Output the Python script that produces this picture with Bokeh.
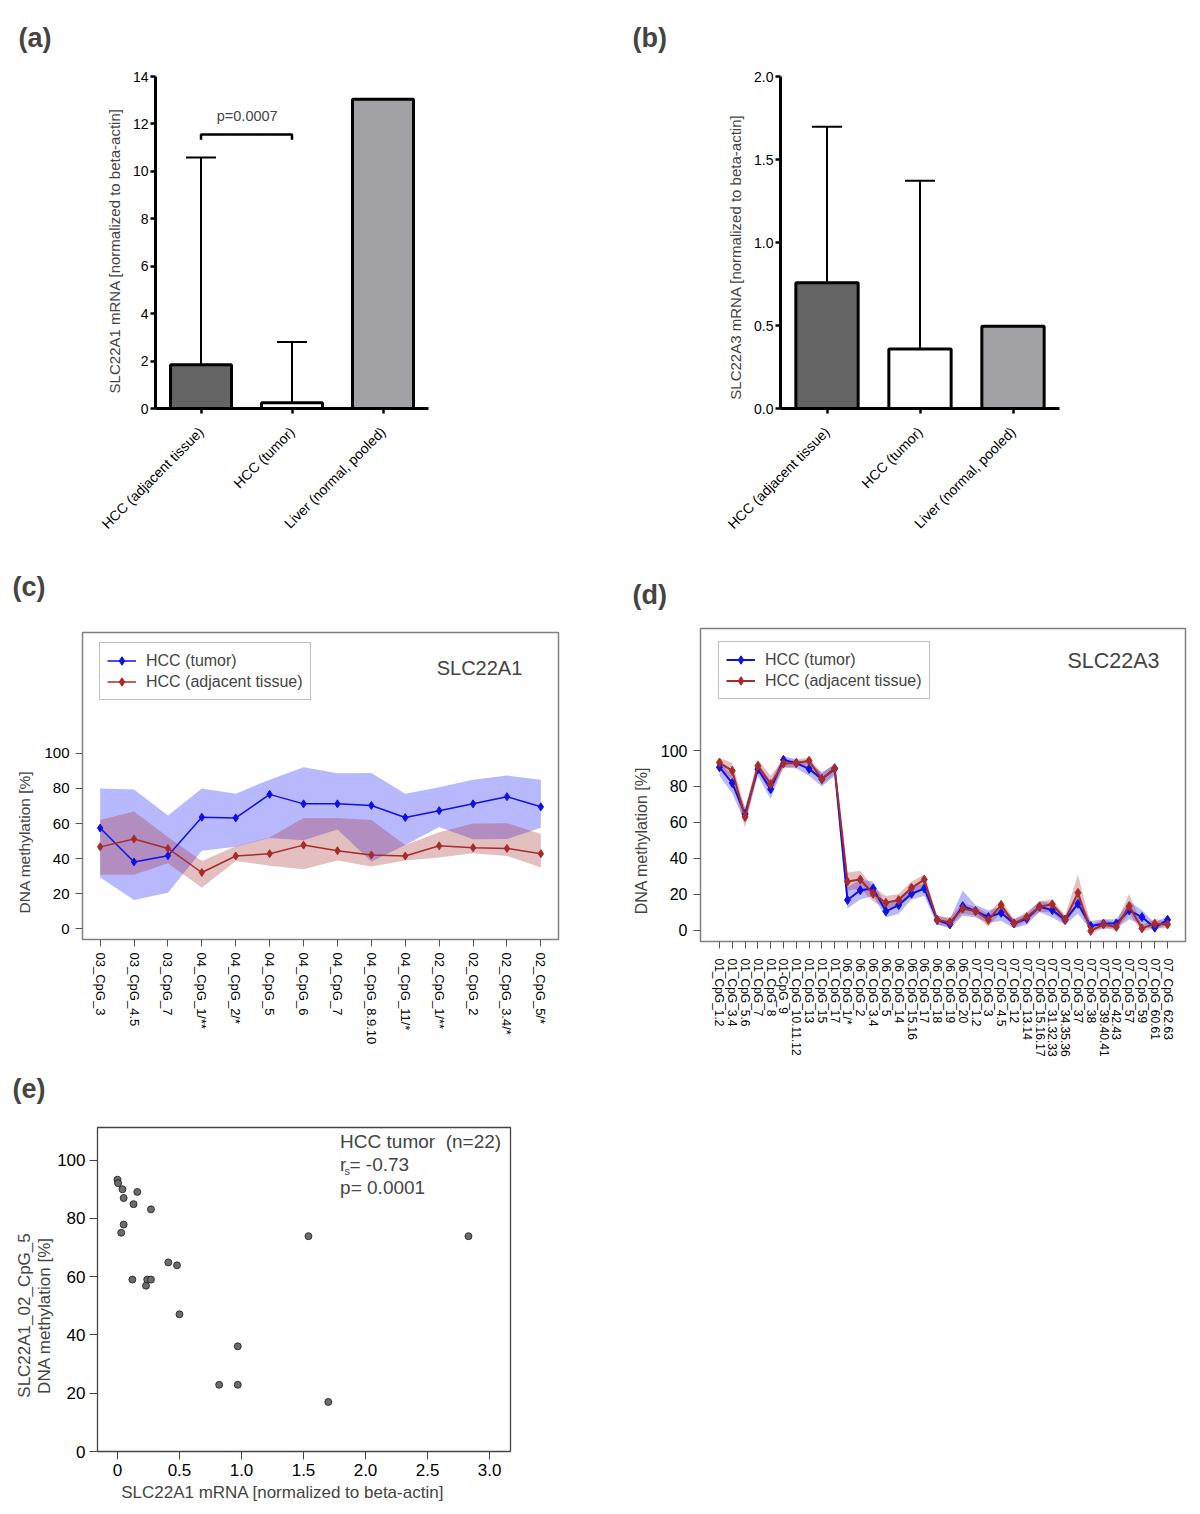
import math
from bokeh.plotting import figure
from bokeh.models import (ColumnDataSource, Range1d, FactorRange, FixedTicker, Whisker,
                          TeeHead, Label, Legend, LegendItem, PrintfTickFormatter)
from bokeh.layouts import column, row
from bokeh.embed import file_html
from bokeh.resources import INLINE

FONT = "Liberation Sans"
NB = "\u00a0"

# ---------------- data: panels (a) and (b) ----------------
bar_cats = ["HCC (adjacent tissue)", "HCC (tumor)", "Liver (normal, pooled)"]
bar_colors = ["#646464", "#ffffff", "#a2a2a6"]
a_means = [1.84, 0.24, 13.04]
a_err_lo = [0.31, 0.02]
a_err_hi = [10.58, 2.80]
a_pvalue = "p=0.0007"
a_bracket_y = 11.55
a_bracket_drop = 0.22
b_means = [0.757, 0.359, 0.496]
b_err_lo = [0.072, 0.006]
b_err_hi = [1.697, 1.372]

# ---------------- data: panel (c) SLC22A1 ----------------
cats_c = ["03_CpG_3", "03_CpG_4.5", "03_CpG_7", "04_CpG_1/**", "04_CpG_2/*", "04_CpG_5",
          "04_CpG_6", "04_CpG_7", "04_CpG_8.9.10", "04_CpG_11/*", "02_CpG_1/**", "02_CpG_2",
          "02_CpG_3.4/*", "02_CpG_5/*"]
tum_c = [57.4, 38.1, 41.7, 63.6, 63.2, 76.6, 71.2, 71.2, 70.3, 63.4, 67.3, 71.2, 75.3, 69.5]
tum_c_hi = [80.0, 79.4, 64.5, 80.0, 77.0, 85.0, 92.0, 88.6, 88.8, 77.0, 80.7, 85.0, 87.3, 85.0]
tum_c_lo = [29.3, 16.4, 20.6, 44.5, 46.7, 51.8, 50.5, 56.6, 38.3, 47.7, 58.0, 51.0, 51.2, 57.6]
adj_c = [46.7, 51.2, 45.8, 32.1, 41.5, 42.8, 47.7, 44.5, 42.1, 41.5, 47.3, 46.2, 45.8, 42.8]
adj_c_hi = [62.0, 66.9, 52.3, 38.7, 47.1, 52.0, 63.2, 63.2, 62.0, 47.7, 55.0, 60.0, 60.2, 54.0]
adj_c_lo = [30.8, 30.8, 37.4, 23.4, 38.7, 35.9, 34.0, 39.0, 35.5, 38.9, 40.6, 43.0, 41.5, 35.0]

# ---------------- data: panel (d) SLC22A3 ----------------
cats_d = ["01_CpG_1.2", "01_CpG_3.4", "01_CpG_5.6", "01_CpG_7", "01_CpG_8", "01-CpG_9",
          "01_CpG_10.11.12", "01_CpG_13", "01_CpG_15", "01_CpG_17", "06_CpG_1/*", "06_CpG_2",
          "06_CpG_3.4", "06_CpG_5", "06_CpG_14", "06_CpG_15.16", "06_CpG_17", "06_CpG_18",
          "06_CpG_19", "06_CpG_20", "07_CpG_1.2", "07_CpG_3", "07_CpG_4.5", "07_CpG_12",
          "07_CpG_13.14", "07_CpG_15.16.17", "07_CpG_31.32.33", "07_CpG_34.35.36", "07_CpG_37",
          "07_CpG_38", "07_CpG_39.40.41", "07_CpG_42.43", "07_CpG_57", "07_CpG_59",
          "07_CpG_60.61", "07_CpG_62.63"]
tum_d = [90.7, 81.9, 64.6, 89.6, 78.5, 94.8, 93.0, 89.8, 84.1, 89.8, 16.7, 22.2, 23.1, 10.4,
         13.9, 20.2, 23.1, 5.6, 3.1, 13.3, 10.6, 7.2, 9.6, 3.7, 6.3, 13.0, 11.1, 5.6, 14.6,
         2.2, 3.5, 3.7, 10.9, 7.2, 1.3, 5.7]
tum_d_lo = [86, 76, 60, 86, 73, 91, 90, 86, 80, 86, 12, 17, 19, 7, 9, 17, 19, 3, 1, 8, 7, 4,
            5, 1, 3, 10, 7, 3, 9, 0, 1, 1, 6, 3, 0, 3]
tum_d_hi = [94, 86, 68, 93, 83, 97, 95, 93, 88, 92, 24, 28, 27, 14, 18, 24, 26, 8, 6, 22, 14,
            11, 13, 6, 9, 16, 15, 8, 19, 5, 6, 6, 16, 11, 4, 8]
adj_d = [93.3, 88.7, 63.0, 91.5, 81.3, 92.8, 93.0, 94.3, 84.1, 90.2, 27.0, 28.1, 20.2, 15.2,
         16.7, 23.5, 28.1, 5.6, 4.4, 11.9, 10.6, 5.6, 13.9, 3.7, 7.2, 13.0, 14.3, 5.9, 20.7,
         -0.5, 3.1, 1.7, 13.3, 0.9, 3.5, 3.1]
adj_d_lo = [90, 84, 57, 88, 77, 90, 91, 92, 81, 87, 22, 23, 16, 12, 13, 19, 24, 3, 2, 9, 8, 2,
            10, 1, 5, 10, 10, 3, 14, -2, 1, 0, 9, -1, 1, 1]
adj_d_hi = [96, 93, 68, 95, 86, 95, 95, 96, 87, 93, 32, 33, 24, 19, 20, 27, 31, 8, 7, 15, 13,
            9, 17, 6, 10, 16, 17, 8, 31, 3, 6, 4, 20, 3, 6, 5]

# ---------------- data: panel (e) scatter ----------------
e_mrna = [0.00, 0.005, 0.04, 0.16, 0.05, 0.13, 0.27, 0.05, 0.03, 1.54, 2.83, 0.41, 0.48,
          0.12, 0.24, 0.27, 0.23, 0.50, 0.97, 0.82, 0.97, 1.70]
e_meth = [93.3, 92.1, 90.0, 89.1, 87.0, 84.9, 83.1, 77.9, 75.1, 73.9, 73.9, 64.9, 63.9,
          59.0, 59.0, 59.0, 56.9, 47.1, 36.1, 22.9, 22.9, 17.0]

BLUE = "#1010e6"
RED = "#a82b2b"


def new_fig(width, height, borders, letter, letter_off, letter_standoff, **kw):
    bl, br, bt, bb = borders
    p = figure(width=width, height=height, output_backend="svg", toolbar_location=None,
               min_border_left=bl, min_border_right=br, min_border_top=bt,
               min_border_bottom=bb, title=letter, **kw)
    p.title.text_font = FONT
    p.title.text_font_size = "27px"
    p.title.text_font_style = "bold"
    p.title.align = "left"
    p.title.vertical_align = "top"
    p.title.offset = letter_off
    p.title.standoff = letter_standoff
    p.xgrid.grid_line_color = None
    p.ygrid.grid_line_color = None
    return p


def bar_panel(means, lo, hi, ytop, yticks, fmt, ylabel, width, borders, letter, loff):
    p = new_fig(width, 540, borders, letter, loff, 43,
                x_range=FactorRange(*bar_cats), y_range=Range1d(0, ytop))
    p.outline_line_color = None
    src = ColumnDataSource(dict(cat=bar_cats, top=means, color=bar_colors))
    p.vbar(x="cat", top="top", width=0.67, source=src, fill_color="color",
           line_color="black", line_width=3)
    wsrc = ColumnDataSource(dict(base=bar_cats[:2], lower=lo, upper=hi))
    p.add_layout(Whisker(source=wsrc, base="base", lower="lower", upper="upper",
                         line_color="black", line_width=2,
                         upper_head=TeeHead(size=30, line_width=2, line_color="black"),
                         lower_head=TeeHead(size=30, line_width=2, line_color="black")))
    for ax in (p.xaxis[0], p.yaxis[0]):
        ax.axis_line_width = 3
        ax.axis_line_color = "black"
        ax.major_tick_line_width = 2.5
        ax.major_tick_out = 5
        ax.major_tick_in = 0
        ax.minor_tick_line_color = None
        ax.major_label_text_font = FONT
        ax.major_label_text_color = "black"
    p.xaxis.major_label_orientation = math.pi / 4
    p.xaxis.major_label_text_font_size = "14px"
    p.xaxis.major_label_standoff = 16
    p.yaxis.ticker = FixedTicker(ticks=yticks)
    if fmt:
        p.yaxis.formatter = PrintfTickFormatter(format=fmt)
    p.yaxis.major_label_text_font_size = "14px"
    p.yaxis.major_label_standoff = 2
    p.yaxis.axis_label = ylabel
    p.yaxis.axis_label_text_font = FONT
    p.yaxis.axis_label_text_font_size = "15px"
    p.yaxis.axis_label_text_font_style = "normal"
    p.yaxis.axis_label_standoff = 7
    return p


pa = bar_panel(a_means, a_err_lo, a_err_hi, 14, [0, 2, 4, 6, 8, 10, 12, 14], None,
               "SLC22A1 mRNA [normalized to beta-actin]" + NB * 4, 620, (155, 192, 76, 125),
               "(a)", -137)
pa.line(x=[bar_cats[0], bar_cats[0], bar_cats[1], bar_cats[1]],
        y=[a_bracket_y - a_bracket_drop, a_bracket_y, a_bracket_y, a_bracket_y - a_bracket_drop],
        line_color="black", line_width=2.5)
pa.add_layout(Label(x=91.7, y=293, x_units="screen", y_units="screen", text=a_pvalue,
                    text_font=FONT, text_font_size="14.5px", text_align="center",
                    text_baseline="middle"))

pb = bar_panel(b_means, b_err_lo, b_err_hi, 2.0, [0, 0.5, 1.0, 1.5, 2.0], "%.1f",
               "SLC22A3 mRNA [normalized to beta-actin]" + NB * 7, 572, (160, 133, 76, 128),
               "(b)", -148)


def meth_panel(cats, tum, tlo, thi, adj, alo, ahi, xr, yr, borders, width, height, letter,
               loff, lstand, lw, ms, xfs, yfs, ytfs, ypad, leg_loc, title, title_pos,
               title_fs, xstand):
    p = new_fig(width, height, borders, letter, loff, lstand,
                x_range=Range1d(*xr), y_range=Range1d(*yr))
    p.outline_line_color = "#808080"
    p.outline_line_width = 1.5
    xs = list(range(len(cats)))
    src = ColumnDataSource(dict(x=xs, tum=tum, tlo=tlo, thi=thi, adj=adj, alo=alo, ahi=ahi))
    p.varea(x="x", y1="tlo", y2="thi", source=src, fill_color="#0000ff", fill_alpha=0.28)
    p.varea(x="x", y1="alo", y2="ahi", source=src, fill_color="#a52a2a", fill_alpha=0.3)
    lt = p.line("x", "tum", source=src, line_color=BLUE, line_width=lw)
    st = p.scatter("x", "tum", source=src, marker="diamond", size=ms, fill_color=BLUE,
                   line_color=BLUE)
    la = p.line("x", "adj", source=src, line_color=RED, line_width=lw)
    sa = p.scatter("x", "adj", source=src, marker="diamond", size=ms, fill_color=RED,
                   line_color=RED)
    leg = Legend(items=[LegendItem(label="HCC (tumor)", renderers=[lt, st]),
                        LegendItem(label="HCC (adjacent tissue)", renderers=[la, sa])],
                 location=leg_loc, label_text_font=FONT, label_text_font_size="16px",
                 glyph_width=29, glyph_height=21, label_height=21, label_standoff=10,
                 padding=7, spacing=0, margin=0, border_line_color="#808080",
                 border_line_width=1.5, background_fill_color="white",
                 background_fill_alpha=1.0)
    p.add_layout(leg)
    p.add_layout(Label(x=title_pos[0], y=title_pos[1], x_units="screen", y_units="screen",
                       text=title, text_font=FONT, text_font_size=title_fs,
                       text_align="center", text_baseline="middle"))
    for ax in (p.xaxis[0], p.yaxis[0]):
        ax.axis_line_color = None
        ax.major_tick_line_color = "#555555"
        ax.major_tick_line_width = 1
        ax.major_tick_out = 7
        ax.major_tick_in = 0
        ax.minor_tick_line_color = None
        ax.major_label_text_font = FONT
        ax.major_label_text_color = "black"
    p.xaxis.ticker = FixedTicker(ticks=xs)
    p.xaxis.major_label_overrides = {i: c for i, c in zip(xs, cats)}
    p.xaxis.major_label_orientation = -math.pi / 2
    p.xaxis.major_label_text_font_size = xfs
    p.xaxis.major_label_standoff = xstand
    p.yaxis.ticker = FixedTicker(ticks=[0, 20, 40, 60, 80, 100])
    p.yaxis.major_label_text_font_size = yfs
    p.yaxis.major_label_standoff = 6
    p.yaxis.axis_label = "DNA methylation [%]" + NB * ypad
    p.yaxis.axis_label_text_font = FONT
    p.yaxis.axis_label_text_font_size = ytfs
    p.yaxis.axis_label_text_font_style = "normal"
    p.yaxis.axis_label_standoff = 8
    return p


pc = meth_panel(cats_c, tum_c, tum_c_lo, tum_c_hi, adj_c, adj_c_lo, adj_c_hi,
                (-0.52, 13.52), (-6.06, 168.8), (82, 62, 92, 106), 620, 507, "(c)", -70, 57,
                1.5, 8, "13px", "15px", "15.5px", 26, (17, 239), "SLC22A1", (397, 272),
                "20px", 6)

pd_ = meth_panel(cats_d, tum_d, tum_d_lo, tum_d_hi, adj_d, adj_d_lo, adj_d_hi,
                 (-1.48, 36.4), (-6.4, 168.0), (80, 7, 88, 124), 572, 525, "(d)", -68, 34,
                 2, 9, "12px", "16px", "16px", 25, (18, 242), "SLC22A3", (413, 281),
                 "21.5px", 10)

# ---------------- panel (e) ----------------
pe = new_fig(620, 459, (97, 110, 80, 55), "(e)", -85, 44,
             x_range=Range1d(-0.161, 3.169), y_range=Range1d(0, 111.2))
pe.outline_line_color = "#444444"
pe.outline_line_width = 1.3
pe.scatter(e_mrna, e_meth, size=7, fill_color="#6b6b6b", line_color="#1a1a1a",
           line_width=0.8)
for ax in (pe.xaxis[0], pe.yaxis[0]):
    ax.axis_line_color = None
    ax.major_tick_line_color = "#444444"
    ax.major_tick_out = 8
    ax.major_tick_in = 0
    ax.minor_tick_line_color = None
    ax.major_label_text_font = FONT
    ax.major_label_text_font_size = "17px"
    ax.major_label_text_color = "black"
    ax.axis_label_text_font = FONT
    ax.axis_label_text_font_size = "17px"
    ax.axis_label_text_font_style = "normal"
pe.xaxis.ticker = FixedTicker(ticks=[0, 0.5, 1.0, 1.5, 2.0, 2.5, 3.0])
pe.xaxis.formatter = PrintfTickFormatter(format="%.1f")
pe.xaxis.major_label_overrides = {0: "0"}
pe.xaxis.major_label_standoff = 4
pe.xaxis.axis_label = "SLC22A1 mRNA [normalized to beta-actin]" + NB * 9
pe.xaxis.axis_label_standoff = 4
pe.yaxis.ticker = FixedTicker(ticks=[0, 20, 40, 60, 80, 100])
pe.yaxis.major_label_standoff = 4
pe.yaxis.axis_label = "SLC22A1_02_CpG_5" + NB * 11 + "\nDNA methylation [%]" + NB * 11
pe.yaxis.axis_label_standoff = 0
pe.yaxis.axis_label_text_line_height = 1.05
for txt, sx, sy, fs in [("HCC tumor" + NB + " (n=22)", 242.6, 310, "19px"),
                        ("r", 242.6, 286.7, "19px"),
                        ("s", 247.0, 281.0, "11px"),
                        ("= -0.73", 252.0, 286.7, "19px"),
                        ("p= 0.0001", 242.6, 263.7, "19px")]:
    pe.add_layout(Label(x=sx, y=sy, x_units="screen", y_units="screen", text=txt,
                        text_font=FONT, text_font_size=fs, text_align="left",
                        text_baseline="middle"))

layout = column(row(pa, pb), row(column(row(pc), row(pe)), pd_))
open("out.html", "w").write(file_html(layout, INLINE))
